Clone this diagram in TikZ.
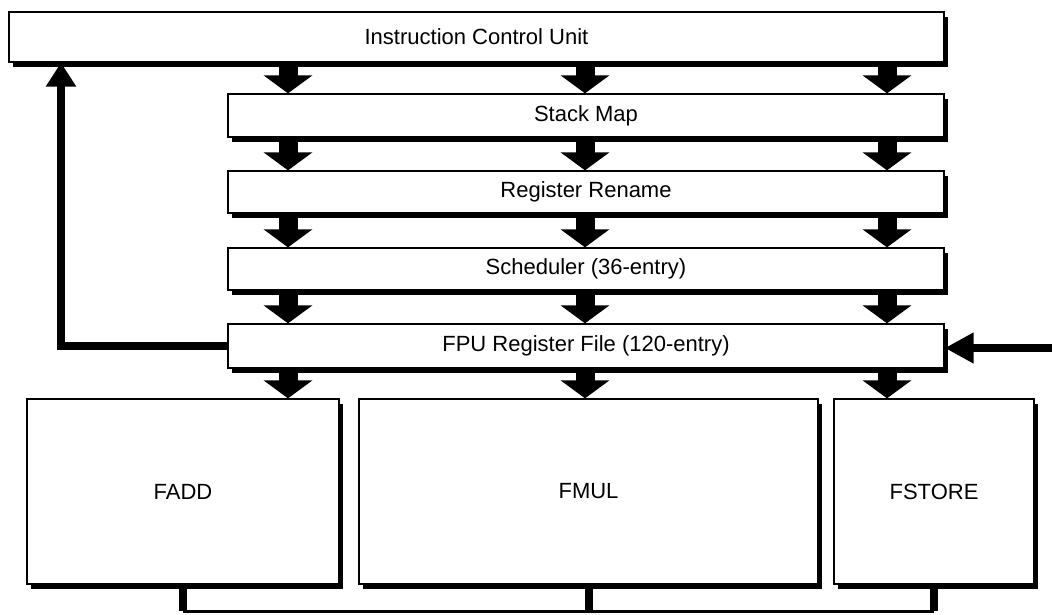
\documentclass[tikz,border=0pt]{standalone}
\usepackage{fontspec}
\setmainfont{Liberation Sans}
\usetikzlibrary{arrows.meta,shadows}

\begin{document}
\begin{tikzpicture}[x=1pt,y=-1pt,
	box/.style={draw,line width=1.3pt,fill=white,inner sep=0pt,font=\fontsize{22}{26}\selectfont,
		drop shadow={shadow xshift=4pt,shadow yshift=-4.5pt,fill=black,opacity=1}},
	fat/.style={line width=19pt,-{Triangle[width=48pt,length=18pt]}},
	feed/.style={line width=8pt,-{Triangle[width=29pt,length=24pt]}},
	stub/.style={line width=8pt},
	bus/.style={line width=3pt}]
		\useasboundingbox (0,0) rectangle (1052,614);

		\node[box,minimum width=935pt,minimum height=50pt] (icu) at (476.5,37) {Instruction Control Unit};
		\node[box,minimum width=716pt,minimum height=43pt] (smap) at (586,115.5) {Stack Map};
		\node[box,minimum width=716pt,minimum height=42pt] (rren) at (586,192) {Register Rename};
		\node[box,minimum width=716pt,minimum height=42pt] (sched) at (586,269) {Scheduler (36-entry)};
		\node[box,minimum width=716pt,minimum height=44pt] (fpurf) at (586,346) {FPU Register File (120-entry)};
		\node[box,minimum width=312pt,minimum height=185pt] (fadd) at (183,491.5) {FADD};
		\node[box,minimum width=459pt,minimum height=185pt] (fmul) at (588.5,491.5) {FMUL};
		\node[box,minimum width=200pt,minimum height=185pt] (fstore) at (934,491.5) {FSTORE};

		\coordinate (c1) at (288,0); \coordinate (c2) at (585,0); \coordinate (c3) at (887,0);
		\coordinate (fb) at (61,0); \coordinate (fin) at (1052,348); \coordinate (busy) at (0,611);

		\foreach \a/\b in {icu/smap,smap/rren,rren/sched,sched/fpurf}
			\foreach \c in {c1,c2,c3}
				\draw[fat] (\a.south -| \c) -- (\b.north -| \c);
		\foreach \c/\b in {c1/fadd,c2/fmul,c3/fstore}
			\draw[fat] (fpurf.south -| \c) -- (\b.north -| \c);

		\draw[feed] (fpurf.west) -| (icu.south -| fb);
		\draw[feed,-{Triangle[width=29pt,length=29pt]}] (fin) -- (fin -| fpurf.east);

		\foreach \b in {fadd,fmul,fstore}
			\draw[stub] (\b.south) -- (\b.south |- busy);
		\draw[bus] (fadd.south |- busy) -- (fstore.south |- busy);
	\end{tikzpicture}
\end{document}
